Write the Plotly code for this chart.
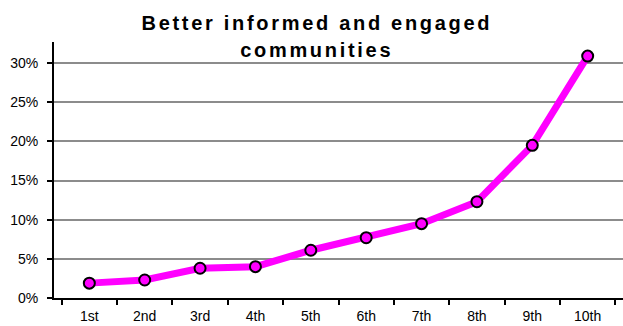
import plotly.graph_objects as go

deciles = ["1st", "2nd", "3rd", "4th", "5th", "6th", "7th", "8th", "9th", "10th"]
share = [0.019, 0.023, 0.038, 0.040, 0.061, 0.077, 0.095, 0.123, 0.195, 0.309]
y_ticks = [0, 0.05, 0.10, 0.15, 0.20, 0.25, 0.30]
y_tick_labels = ["0%", "5%", "10%", "15%", "20%", "25%", "30%"]
title_lines = ["Better informed and engaged", "communities"]

fig = go.Figure(
    go.Scatter(
        x=deciles,
        y=share,
        mode="lines+markers",
        line=dict(color="#FF00FF", width=7),
        marker=dict(symbol="circle", size=11, color="#FF00FF",
                    line=dict(color="black", width=2)),
        cliponaxis=False,
    )
)

# two-line heading drawn as separate annotations for wider line spacing
title_y = [1.074, 0.969]
for line, yy in zip(title_lines, title_y):
    fig.add_annotation(
        text=f"<b>{line}</b>",
        xref="paper", yref="paper",
        x=0.462, y=yy,
        xanchor="center", yanchor="middle",
        showarrow=False,
        font=dict(family="Liberation Sans, Arial, sans-serif", size=20, color="black"),
    )

fig.update_layout(
    width=623,
    height=326,
    margin=dict(l=54, r=0, t=42, b=28),
    paper_bgcolor="white",
    plot_bgcolor="white",
    showlegend=False,
    font=dict(family="Liberation Sans, Arial, sans-serif", size=14, color="black"),
)

fig.update_xaxes(
    type="category",
    tickson="boundaries",
    ticks="outside",
    ticklen=5,
    tickwidth=2,
    tickcolor="black",
    showline=True,
    linecolor="black",
    linewidth=2,
    showgrid=False,
    ticklabelstandoff=4,
    automargin=False,
)

fig.update_yaxes(
    range=[0, 0.327],
    tickvals=y_ticks,
    ticktext=y_tick_labels,
    ticks="outside",
    ticklen=5,
    tickwidth=2,
    tickcolor="black",
    showline=True,
    linecolor="black",
    linewidth=2,
    showgrid=True,
    gridcolor="#8c8c8c",
    gridwidth=2,
    zeroline=False,
    ticklabelstandoff=6,
    automargin=False,
)

# spaced-out lettering for the heading
spacing_js = """
document.querySelectorAll('.annotation-text').forEach(function (el) {
  el.style.letterSpacing = '2.7px';
});
"""

fig.write_html("out.html", post_script=spacing_js)
